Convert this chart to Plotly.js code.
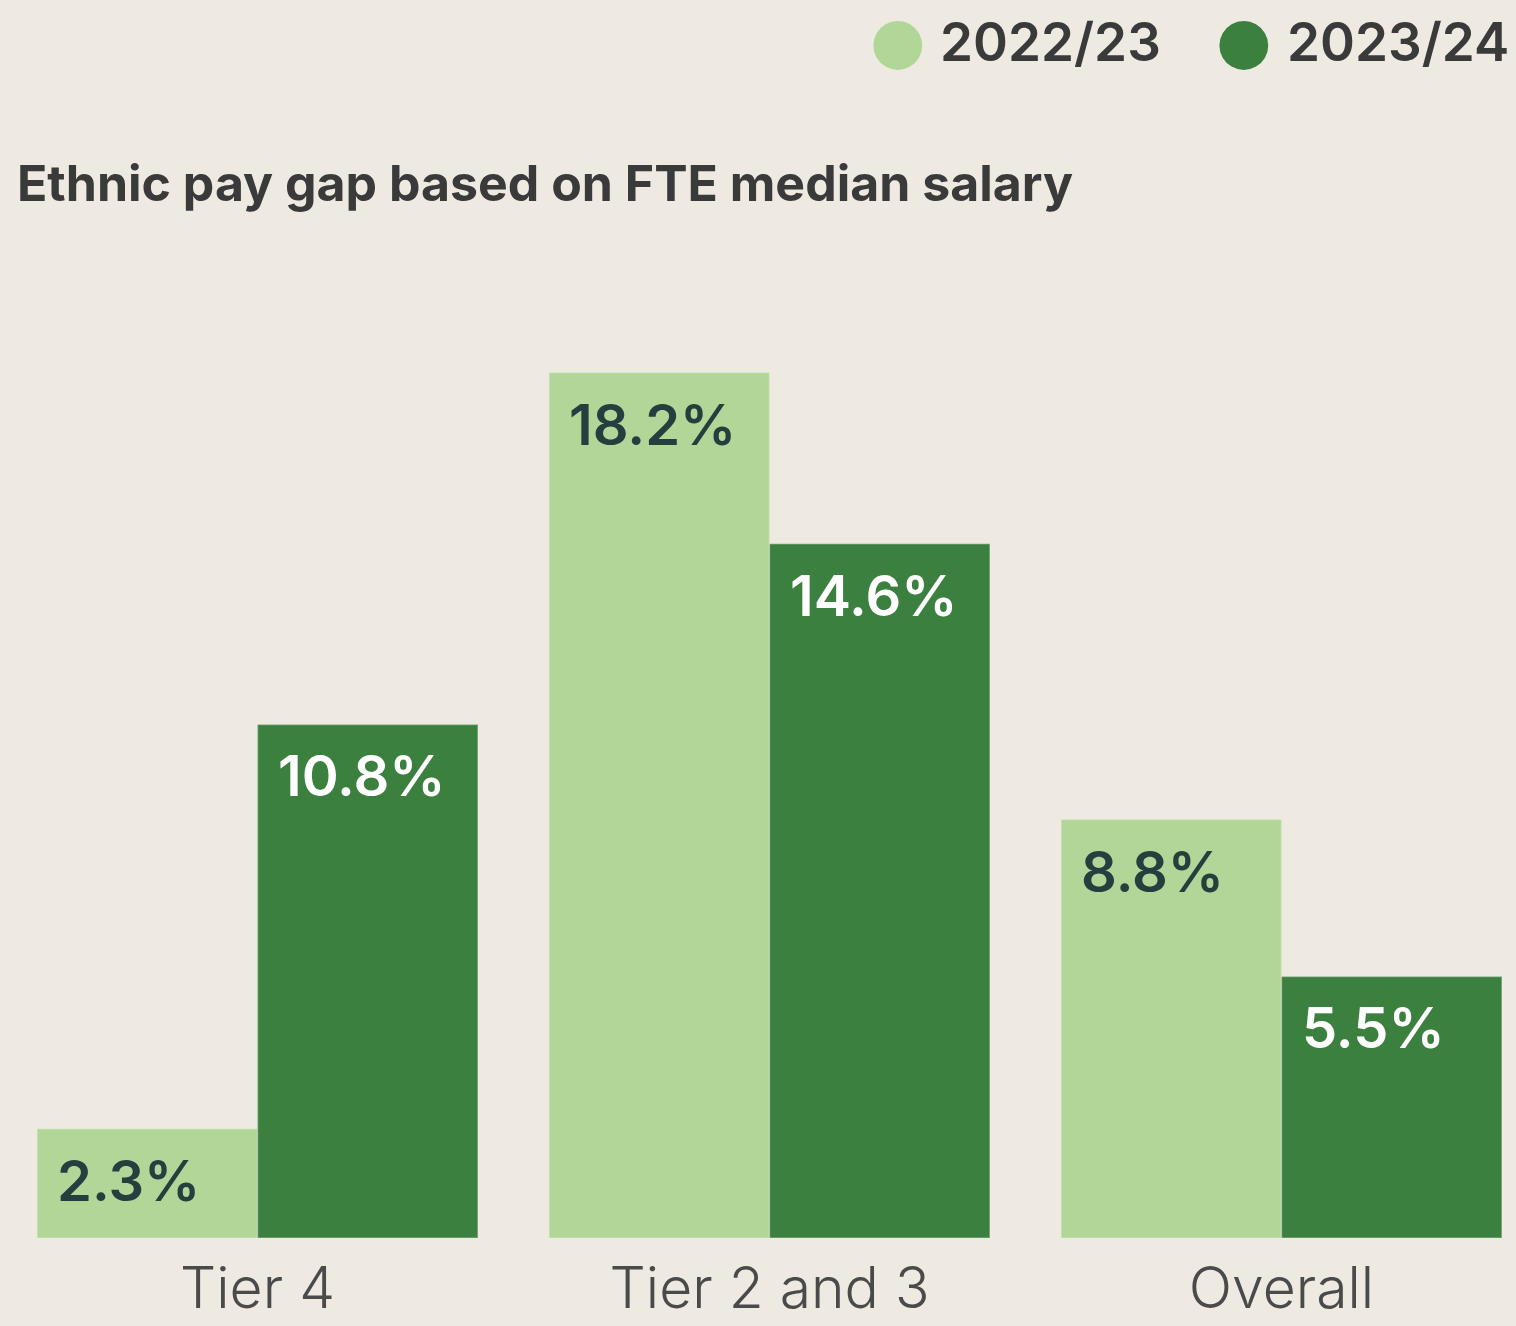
<!DOCTYPE html>
<html>
<head>
<meta charset="utf-8">
<script src="https://cdn.plot.ly/plotly-3.0.1.min.js"></script>
<style>
  html, body { margin: 0; padding: 0; background: #EEEAE1; }
  #chart { width: 1516px; height: 1326px; }
</style>
</head>
<body>
<div id="chart"></div>
<script>
// ---- data ----
const categories = ["Tier 4", "Tier 2 and 3", "Overall"];
const seriesNames = ["2022/23", "2023/24"];
const values2022 = [2.3, 18.2, 8.8];
const values2023 = [10.8, 14.6, 5.5];
const chartTitle = "Ethnic pay gap based on FTE median salary";

// ---- styles ----
const W = 1516, H = 1326;
const BG = "#EEEAE1";
const LIGHT = "#B0D798";
const DARK = "#3B803F";
const LABEL_DARK = "#243F3E";
const FONT = "Inter, 'Open Sans', sans-serif";
const M = { l: 0, r: 0, t: 287, b: 88 };
const plotH = H - M.t - M.b;
const py = y => (H - M.b - y) / plotH;   // pixel (from top) -> paper y
const px = x => x / W;                    // pixel -> paper x

const traces = [
  {
    type: "bar", name: seriesNames[0], x: categories, y: values2022,
    marker: { color: LIGHT, line: { color: "rgba(238,234,225,0.35)", width: 1.5 } },
    hoverinfo: "none", showlegend: false
  },
  {
    type: "bar", name: seriesNames[1], x: categories, y: values2023,
    marker: { color: DARK, line: { color: "rgba(238,234,225,0.35)", width: 1.5 } },
    hoverinfo: "none", showlegend: false
  }
];

// value labels inside bars (top-left)
const BAR_PX = 220.5;
const annotations = [];
categories.forEach((c, i) => {
  annotations.push({
    xref: "x", yref: "y", x: c, y: values2022[i],
    xanchor: "left", yanchor: "top", xshift: -BAR_PX + 18, yshift: -16,
    text: values2022[i].toFixed(1) + "%", showarrow: false,
    font: { family: FONT, size: 56, color: LABEL_DARK, weight: 600 }
  });
  annotations.push({
    xref: "x", yref: "y", x: c, y: values2023[i],
    xanchor: "left", yanchor: "top", xshift: 18, yshift: -16,
    text: values2023[i].toFixed(1) + "%", showarrow: false,
    font: { family: FONT, size: 56, color: "#FFFFFF", weight: 600 }
  });
});

// legend (drawn as text)
const legendFont = { family: FONT, size: 53, color: "#3A3A3A", weight: 600 };
annotations.push(
  { xref: "paper", yref: "paper", x: px(898), y: py(40), xanchor: "center", yanchor: "middle",
    text: "●", showarrow: false, font: { family: "DejaVu Sans", size: 64, color: LIGHT } },
  { xref: "paper", yref: "paper", x: px(938), y: py(42), xanchor: "left", yanchor: "middle",
    text: seriesNames[0], showarrow: false, font: legendFont },
  { xref: "paper", yref: "paper", x: px(1244), y: py(40), xanchor: "center", yanchor: "middle",
    text: "●", showarrow: false, font: { family: "DejaVu Sans", size: 64, color: DARK } },
  { xref: "paper", yref: "paper", x: px(1285), y: py(42), xanchor: "left", yanchor: "middle",
    text: seriesNames[1], showarrow: false, font: legendFont }
);

const layout = {
  width: W, height: H,
  paper_bgcolor: BG, plot_bgcolor: BG,
  margin: M,
  barmode: "group", bargap: 0.139, bargroupgap: 0,
  showlegend: false,
  title: {
    text: chartTitle, xref: "container", yref: "container",
    x: px(17), xanchor: "left", y: 1 - 183 / H, yanchor: "middle",
    font: { family: FONT, size: 50, color: "#3A3A3A", weight: 700 }
  },
  xaxis: {
    type: "category", range: [-0.503, 2.458],
    showgrid: false, zeroline: false, showline: false, ticks: "",
    tickfont: { family: FONT, size: 57, color: "#4A4A4A", weight: 300 },
    ticklabelstandoff: 12, fixedrange: true
  },
  yaxis: {
    range: [0, 20], visible: false, showgrid: false, zeroline: false, fixedrange: true
  },
  annotations: annotations
};

Plotly.newPlot("chart", traces, layout, { displayModeBar: false, staticPlot: true });
</script>
</body>
</html>
